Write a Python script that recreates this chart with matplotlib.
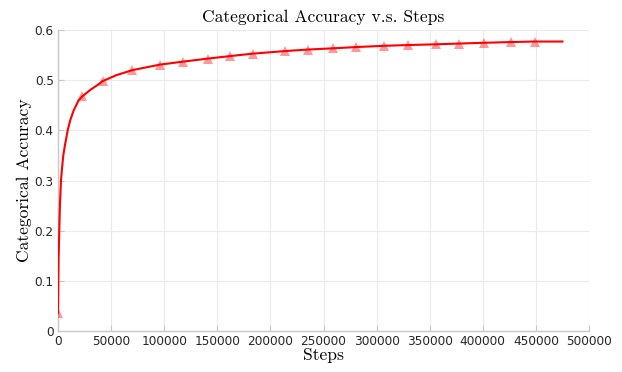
import matplotlib
matplotlib.use("Agg")
import matplotlib.pyplot as plt

# line data
steps = [0, 300, 600, 1200, 1800, 2800, 3800, 5000, 6500, 8000, 9100,
         11500, 14800, 19500, 23000, 30000, 37000, 42000, 55000, 70000,
         96000, 118000, 141000, 162000, 184000, 214000, 235000, 259000,
         281000, 307000, 330000, 356000, 378000, 401000, 427000, 449000,
         475000]
accuracy = [0.036, 0.10, 0.15, 0.20, 0.25, 0.30, 0.325, 0.35, 0.37, 0.387,
            0.40, 0.42, 0.44, 0.46, 0.468, 0.480, 0.490, 0.498, 0.510,
            0.520, 0.531, 0.537, 0.543, 0.548, 0.553, 0.558, 0.561, 0.5635,
            0.566, 0.5685, 0.570, 0.5715, 0.573, 0.5745, 0.576, 0.577, 0.577]

# marker positions
marker_steps = [0, 23000, 42000, 70000, 96000, 118000, 141000, 162000,
                184000, 214000, 235000, 259000, 281000, 307000, 330000,
                356000, 378000, 401000, 427000, 449000]
marker_acc = [0.036, 0.468, 0.498, 0.520, 0.531, 0.537, 0.543, 0.548,
              0.553, 0.558, 0.561, 0.5635, 0.566, 0.5685, 0.570, 0.5715,
              0.573, 0.5745, 0.576, 0.577]

xticks = [0, 50000, 100000, 150000, 200000, 250000, 300000, 350000,
          400000, 450000, 500000]
yticks = [0, 0.1, 0.2, 0.3, 0.4, 0.5, 0.6]

fig = plt.figure(figsize=(6.22, 3.72), dpi=100)
ax = fig.add_axes([58 / 622, 41 / 372, 531 / 622, 301 / 372])

ax.plot(steps, accuracy, color="red", linewidth=1.5, zorder=3)
ax.plot(marker_steps, marker_acc, linestyle="none", marker="^",
        markersize=7, color="red", alpha=0.4, markeredgewidth=0, zorder=4)

ax.set_xlim(0, 500000)
ax.set_ylim(0, 0.6)
ax.set_xticks(xticks)
ax.set_xticklabels([str(t) for t in xticks])
ax.set_yticks(yticks)
ax.set_yticklabels(["0", "0.1", "0.2", "0.3", "0.4", "0.5", "0.6"])

ax.grid(True, color="#ebebeb", linewidth=0.8)
ax.set_axisbelow(True)
for side in ["top", "right"]:
    ax.spines[side].set_visible(False)
for side in ["left", "bottom"]:
    ax.spines[side].set_color("#c8c8c8")
    ax.spines[side].set_linewidth(1.0)
ax.tick_params(direction="in", length=4, color="#c8c8c8",
               labelsize=8.7, labelcolor="#262626", pad=3)

serif = {"family": "cmr10", "size": 12.6}
ax.set_title("Categorical Accuracy v.s. Steps", fontdict=serif, pad=6)
ax.set_xlabel("Steps", fontdict=serif, labelpad=0)
ax.set_ylabel("Categorical Accuracy", fontdict=serif, labelpad=2)

fig.savefig("out.png", dpi=100)
